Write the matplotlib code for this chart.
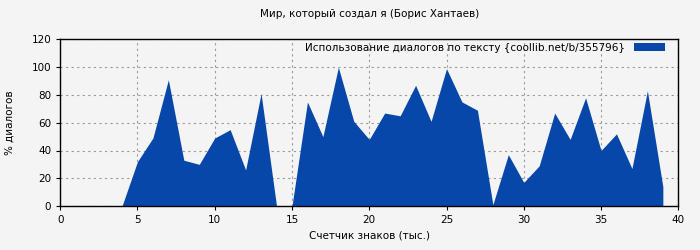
import matplotlib
matplotlib.use("Agg")
import matplotlib.pyplot as plt

# thousands of characters
chars = list(range(0, 40))
dialog_pct = [0, 0, 0, 0, 0, 32, 49, 91, 33, 30,
              49, 55, 26, 81, 0, 0, 75, 50, 100, 61,
              48, 67, 65, 87, 61, 99, 75, 69, 1, 37,
              17, 29, 67, 48, 78, 40, 52, 27, 83, 14]

title = "Мир, который создал я (Борис Хантаев)"
legend_label = "Использование диалогов по тексту {coollib.net/b/355796}"
xlabel = "Счетчик знаков (тыс.)"
ylabel = "% диалогов"

bg = "#f4f4f4"
blue = "#0747a9"

plt.rcParams['font.family'] = ['DejaVu Sans']
fig = plt.figure(figsize=(7, 2.5), dpi=100, facecolor=bg)
ax = fig.add_axes([0.086, 0.176, 0.883, 0.666], facecolor=bg)

ax.fill_between(chars, dialog_pct, 0, color=blue, linewidth=0, label=legend_label)

ax.set_xlim(0, 40)
ax.set_ylim(0, 120)
ax.set_xticks(range(0, 41, 5))
ax.set_yticks(range(0, 121, 20))
ax.set_axisbelow(True)
ax.grid(True, color="#999999", linestyle=(0, (2, 3)), linewidth=0.8)
ax.tick_params(labelsize=7.5, length=3, width=0.8, color="#000000")
for s in ax.spines.values():
    s.set_linewidth(1.0)
    s.set_zorder(5)

ax.set_title(title, fontsize=7.5, pad=16)
ax.set_xlabel(xlabel, fontsize=7.5)
ax.set_ylabel(ylabel, fontsize=7.5, labelpad=12)

leg = ax.legend(loc="upper right", bbox_to_anchor=(0.984, 1.0), frameon=False,
                markerfirst=False, fontsize=7.5,
                handlelength=3.0, handleheight=0.7, handletextpad=0.9,
                borderaxespad=0.0, borderpad=0.3)

fig.savefig("out.png", dpi=100, facecolor=bg)
